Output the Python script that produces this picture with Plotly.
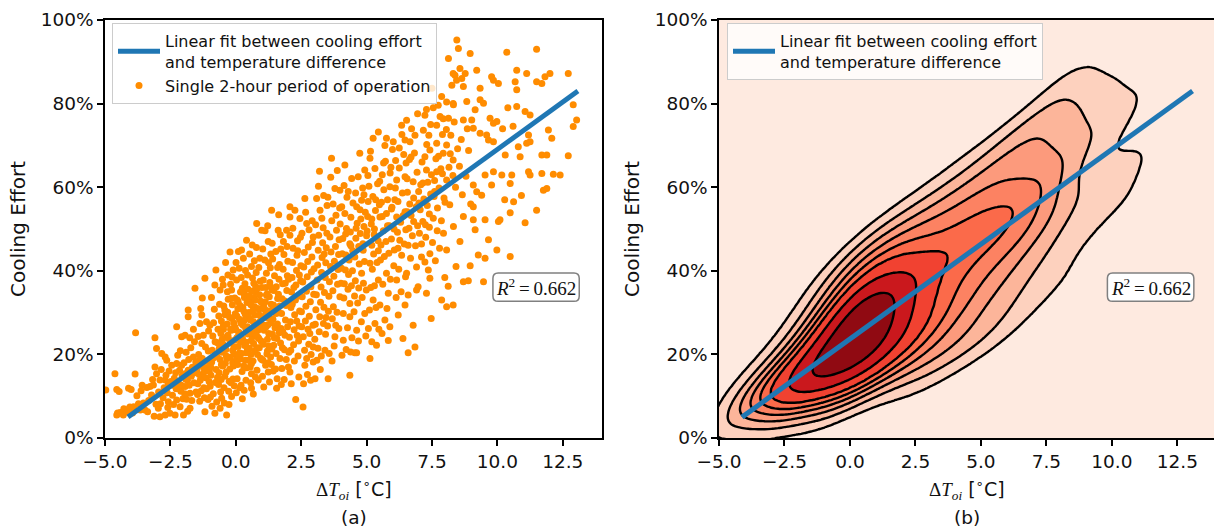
import numpy as np
import plotly.graph_objects as go

# ---------------- data ----------------
# (delta T [degC], cooling effort [%]) for single 2-hour periods
pts_neg = [
    (-4.97,11.5),(-4.62,15.4),(-4.55,11.6),(-4.46,11.1),(-4.55,5.5),(-4.52,6.0),
    (-4.3,5.5),(-4.24,6.8),(-4.0,11.6),(-4.15,6.2),(-4.05,7.4),(-4.42,6.1),(-4.1,11.9),(-4.28,7.0),
    (-3.85,15.3),(-3.83,25.2),(-3.53,8.4),(-3.72,8.2),(-3.65,6.7),(-3.9,7.5),(-3.58,12.6),(-3.78,10.1),(-3.62,11.3),(-3.95,6.0),
    (-3.47,6.7),(-3.37,6.3),(-3.09,24.0),(-3.03,21.4),(-3.09,17.0),(-3.03,15.4),(-3.28,12.3),(-3.15,12.7),(-3.22,10.3),(-3.4,12.1),(-3.12,5.2),(-3.33,9.0),(-3.05,8.1),(-3.18,14.0),
    (-2.96,7.1),(-2.83,20.2),(-2.7,19.4),(-2.64,18.6),(-2.9,13.9),(-2.7,13.9),(-2.58,13.1),(-2.9,5.1),(-2.7,5.5),(-2.52,5.9),(-2.58,8.7),(-2.95,11.0),(-2.78,9.6),(-2.62,10.8),(-2.85,16.4),(-2.55,16.0),(-2.74,12.0),(-2.88,8.2),(-2.6,7.3),(-2.67,15.0),
    (-2.32,5.5),(-2.26,9.1),(-2.13,7.5),(-2.26,26.6),(-2.07,24.2),(-2.45,17.4),(-2.26,17.8),(-2.07,17.4),(-2.0,5.5),(-2.4,12.6),(-2.35,14.3),(-2.18,13.0),(-2.1,11.2),(-2.42,10.2),(-2.3,15.6),(-2.05,14.9),(-2.22,19.8),(-2.12,20.9),(-2.38,8.0),(-2.02,9.4),(-2.48,13.5),(-2.15,16.2),(-2.28,11.8),(-2.08,12.6),
    (-1.94,24.6),(-1.82,30.6),(-1.82,29.0),(-1.94,15.4),(-1.82,16.2),(-1.62,19.4),(-1.94,12.3),(-1.75,10.7),(-1.75,7.1),(-1.56,35.8),(-1.98,18.0),(-1.9,20.5),(-1.85,13.8),(-1.78,12.6),(-1.7,14.8),(-1.66,16.9),(-1.6,13.2),(-1.52,11.0),(-1.88,9.3),(-1.72,21.6),(-1.58,23.0),(-1.95,10.6),(-1.8,18.8),(-1.68,9.0),(-1.55,15.6),(-1.62,26.0),(-1.92,14.1),(-1.76,24.0),(-1.53,18.2),(-1.84,6.4),
    (-1.18,38.2),(-1.3,29.4),(-1.37,27.4),(-1.24,24.6),(-1.3,22.6),(-1.18,6.3),(-1.45,13.0),(-1.4,15.2),(-1.35,17.6),(-1.28,19.0),(-1.22,12.0),(-1.15,14.4),(-1.1,16.8),(-1.05,20.8),(-1.42,20.0),(-1.48,16.4),(-1.32,11.3),(-1.2,9.6),(-1.12,11.8),(-1.02,13.5),(-1.38,8.8),(-1.26,14.9),(-1.08,18.3),(-1.16,21.8),(-1.44,24.3),(-1.34,31.0),(-1.04,25.6),(-1.24,17.0),(-1.46,10.4),(-1.12,27.8),(-1.28,33.5),(-1.06,9.2),(-1.4,18.6),(-1.2,15.9),(-1.01,16.0),(-1.36,13.8),
    (-0.8,5.9),(-0.6,7.1),(-0.6,35.4),(-0.54,9.5),(-0.98,12.4),(-0.95,15.0),(-0.92,18.2),(-0.9,21.0),(-0.88,24.4),(-0.85,27.6),(-0.82,30.8),(-0.78,13.3),(-0.75,16.4),(-0.72,19.6),(-0.7,22.8),(-0.68,26.0),(-0.65,29.2),(-0.62,32.0),(-0.58,11.0),(-0.56,14.0),(-0.55,17.5),(-0.53,20.5),(-0.52,23.6),(-0.51,38.0),(-0.97,9.8),(-0.93,33.6),(-0.86,10.6),(-0.8,36.6),(-0.76,40.2),(-0.73,8.6),(-0.66,12.8),(-0.64,15.6),(-0.6,18.8),(-0.57,25.0),(-0.99,27.0),(-0.91,7.6),(-0.84,19.2),(-0.79,23.0),(-0.7,14.5),(-0.63,21.5),(-0.55,28.0),(-0.96,17.0),
    (-0.35,5.5),(-0.16,9.9),(-0.48,36.6),(-0.1,40.2),(-0.16,35.4),(-0.45,12.0),(-0.42,14.8),(-0.4,17.9),(-0.38,21.2),(-0.36,24.1),(-0.33,27.3),(-0.31,30.1),(-0.29,33.2),(-0.27,11.2),(-0.25,13.6),(-0.23,16.5),(-0.21,19.3),(-0.19,22.7),(-0.17,25.8),(-0.15,28.6),(-0.13,31.9),(-0.11,14.1),(-0.09,17.2),(-0.07,20.1),(-0.05,23.4),(-0.03,26.5),(-0.02,29.7),(-0.44,8.4),(-0.39,42.0),(-0.3,39.0),(-0.22,44.5),(-0.06,12.5),(-0.47,26.0),(-0.41,29.5),(-0.34,19.0),(-0.26,8.0),(-0.2,36.8),(-0.12,21.0),(-0.04,33.5),(-0.49,22.5),(-0.37,15.8),(-0.28,23.8),(-0.18,13.2),(-0.08,27.5),(-0.01,18.4),(-0.46,31.6),(-0.32,35.0),(-0.14,38.5),
]
pts_core = [
    (-0.55,22.4),(-0.48,26.8),(-0.42,30.6),(-0.36,19.6),(-0.3,24.6),(-0.24,28.9),(-0.18,33.4),(-0.12,18.0),(-0.06,21.8),(0.0,25.9),
    (0.04,29.2),(0.09,32.6),(0.14,20.4),(0.18,23.0),(0.22,27.4),(0.27,31.2),(0.31,34.6),(0.36,18.6),(0.4,22.9),(0.45,26.6),
    (0.5,30.0),(0.54,33.2),(0.58,20.0),(0.63,24.2),(0.67,27.8),(0.72,31.4),(0.76,35.0),(0.8,21.6),(0.85,25.8),(0.9,29.4),
    (0.94,32.8),(0.99,18.8),(1.03,22.6),(1.08,27.0),(1.12,30.6),(1.17,34.2),(1.21,20.8),(1.26,25.0),(1.3,28.6),(1.35,32.0),
    (1.4,35.4),(1.45,22.2),(1.5,26.4),(1.55,29.8),(1.6,33.4),(-0.5,17.2),(-0.2,26.0),(0.12,24.8),(0.34,28.2),(0.6,17.8),
    (0.7,33.6),(0.88,23.8),(1.06,31.8),(1.24,18.0),(1.42,30.8),(0.05,19.0),(0.25,35.8),(0.47,21.0),(0.83,27.0),(1.0,36.0),
]
pts_low = [
    (0.1,44.6),(0.22,45.0),(0.41,47.3),(0.29,43.0),(0.03,37.8),(0.22,20.2),(0.48,18.6),(0.02,10.8),(0.05,14.2),(0.07,17.6),(0.09,21.9),(0.12,25.3),(0.14,28.4),(0.16,31.7),(0.18,34.9),(0.2,12.6),(0.24,15.9),(0.26,23.7),(0.28,27.0),(0.31,30.3),(0.33,33.6),(0.35,36.9),(0.37,40.1),(0.39,13.8),(0.42,16.8),(0.44,21.4),(0.46,24.9),(0.49,28.8),(0.04,24.0),(0.08,30.9),(0.13,40.6),(0.17,18.9),(0.21,38.4),(0.25,9.4),(0.3,17.2),(0.34,22.1),(0.38,26.2),(0.43,32.4),(0.47,35.6),(0.06,33.0),(0.11,19.8),(0.15,12.0),(0.19,27.6),(0.27,35.2),(0.32,11.4),(0.36,29.6),(0.4,20.4),(0.45,39.0),(0.01,42.0),(0.23,31.0),
    (0.6,15.4),(0.86,13.9),(0.6,11.9),(0.8,51.3),(0.99,49.7),(0.6,41.0),(0.92,43.0),(0.52,21.5),(0.54,25.0),(0.56,28.2),(0.58,31.9),(0.62,35.1),(0.64,38.3),(0.66,18.4),(0.68,22.6),(0.7,26.1),(0.72,29.4),(0.74,33.0),(0.76,36.2),(0.78,39.6),(0.81,16.2),(0.83,20.0),(0.85,24.1),(0.87,27.5),(0.89,30.8),(0.91,34.3),(0.93,37.5),(0.95,19.1),(0.97,23.2),(0.53,44.0),(0.57,13.2),(0.63,46.2),(0.67,10.5),(0.71,42.4),(0.75,14.6),(0.79,45.6),(0.84,31.0),(0.88,40.8),(0.94,28.0),(0.98,32.5),(0.51,34.0),(0.55,17.0),(0.65,30.5),(0.69,37.0),(0.73,20.8),(0.77,24.8),(0.82,35.8),(0.9,21.6),(0.96,26.4),(0.59,23.3),
    (1.37,54.5),(1.11,42.6),(1.24,47.0),(1.24,15.8),(1.02,14.8),(1.04,18.6),(1.06,22.4),(1.08,25.8),(1.1,29.2),(1.13,32.6),(1.15,36.0),(1.17,39.4),(1.19,20.1),(1.21,23.6),(1.23,27.1),(1.26,30.4),(1.28,33.8),(1.3,37.2),(1.32,40.7),(1.34,44.0),(1.36,17.6),(1.38,21.3),(1.4,24.9),(1.42,28.4),(1.44,31.8),(1.46,35.3),(1.48,38.8),(1.03,45.2),(1.07,12.2),(1.12,49.6),(1.16,26.6),(1.2,34.5),(1.25,41.9),(1.29,13.4),(1.33,19.4),(1.39,46.6),(1.43,16.0),(1.47,24.0),(1.05,37.8),(1.09,31.0),(1.14,17.4),(1.18,28.8),(1.22,50.8),(1.27,22.0),(1.31,36.4),(1.35,27.6),(1.41,42.8),(1.49,30.0),
    (1.62,49.7),(1.94,49.7),(1.82,47.0),(1.56,11.9),(1.52,16.5),(1.54,20.2),(1.57,23.8),(1.59,27.3),(1.61,30.9),(1.63,34.4),(1.65,38.0),(1.67,41.5),(1.69,19.0),(1.71,22.7),(1.73,26.2),(1.75,29.8),(1.77,33.3),(1.79,36.9),(1.81,40.4),(1.84,43.9),(1.86,21.1),(1.88,24.6),(1.9,28.2),(1.92,31.7),(1.95,35.3),(1.97,38.8),(1.99,42.3),(1.53,44.6),(1.58,14.2),(1.64,53.4),(1.68,31.6),(1.72,45.2),(1.76,16.6),(1.8,25.4),(1.85,14.0),(1.89,37.0),(1.93,18.8),(1.98,26.6),(1.55,36.2),(1.6,40.8),(1.66,25.2),(1.7,48.6),(1.74,12.8),(1.78,21.6),(1.87,32.8),(1.96,45.8),
    (2.07,55.3),(2.26,54.5),(2.07,52.9),(2.45,52.5),(2.07,48.5),(2.01,17.0),(2.07,15.8),(2.03,20.5),(2.05,24.1),(2.09,27.8),(2.11,31.2),(2.13,34.9),(2.15,38.4),(2.17,42.0),(2.19,45.4),(2.21,22.3),(2.23,25.9),(2.25,29.5),(2.28,33.0),(2.3,36.6),(2.32,40.1),(2.34,43.7),(2.36,47.2),(2.38,19.6),(2.4,23.2),(2.42,26.8),(2.44,30.4),(2.46,34.0),(2.48,37.6),(2.49,41.2),(2.12,13.0),(2.18,50.2),(2.24,18.4),(2.29,9.2),(2.33,28.0),(2.37,44.8),(2.41,14.6),(2.47,48.0),(2.02,38.0),(2.1,21.0),(2.16,32.0),(2.22,36.0),(2.35,24.5),(2.43,39.0),
    (2.57,7.4),(2.52,26.6),(2.58,24.2),(2.64,57.3),(2.71,51.3),(2.96,48.1),(2.83,25.0),(2.96,21.8),(2.71,19.0),(2.96,18.2),(2.64,17.4),(2.51,30.2),(2.54,33.8),(2.56,37.3),(2.6,40.9),(2.62,44.4),(2.66,28.0),(2.68,31.5),(2.7,35.1),(2.73,38.6),(2.75,42.2),(2.77,45.7),(2.79,22.4),(2.81,29.1),(2.85,32.6),(2.87,36.2),(2.89,39.7),(2.91,43.3),(2.93,46.8),(2.95,27.0),(2.98,34.4),(2.53,49.0),(2.59,13.0),(2.67,54.0),(2.74,15.2),(2.8,49.8),(2.86,13.8),(2.92,52.0),(2.99,40.5),(2.63,21.0),(2.76,26.0),(2.88,20.0),
]
pts_mid = [
    (3.09,57.3),(3.22,54.5),(3.41,21.0),(3.35,27.4),(3.02,23.6),(3.04,27.2),(3.06,30.7),(3.08,34.3),(3.11,37.8),(3.13,41.4),(3.15,44.9),(3.17,48.5),(3.19,25.4),(3.21,29.0),(3.24,32.5),(3.26,36.1),(3.28,39.6),(3.3,43.2),(3.32,46.7),(3.34,50.3),(3.37,31.3),(3.39,34.8),(3.42,38.4),(3.44,41.9),(3.46,45.5),(3.48,49.0),(3.03,14.2),(3.1,18.6),(3.16,60.2),(3.23,16.4),(3.29,52.6),(3.36,58.0),(3.43,24.8),(3.49,55.6),(3.05,51.0),(3.14,21.5),(3.2,63.8),(3.27,19.6),(3.38,44.0),(3.45,28.8),
    (3.53,14.2),(3.66,66.9),(3.98,59.3),(3.79,59.7),(3.6,48.1),(3.85,49.7),(3.79,24.2),(3.73,31.4),(3.98,33.8),(3.51,26.8),(3.54,30.3),(3.56,33.9),(3.58,37.4),(3.62,41.0),(3.64,44.5),(3.67,52.0),(3.69,28.5),(3.71,35.2),(3.75,38.7),(3.77,42.3),(3.81,45.8),(3.83,53.3),(3.87,30.1),(3.89,36.8),(3.91,40.3),(3.93,43.9),(3.95,47.4),(3.97,55.0),(3.52,57.6),(3.57,20.2),(3.63,62.4),(3.68,18.4),(3.72,56.0),(3.76,22.0),(3.82,27.0),(3.88,64.0),(3.94,26.2),(3.99,51.2),
    (4.36,15.0),(4.17,65.3),(4.43,62.1),(4.05,55.3),(4.17,53.7),(4.36,46.5),(4.36,29.0),(4.11,23.4),(4.11,29.8),(4.36,32.2),(4.02,37.0),(4.04,40.6),(4.07,44.1),(4.09,47.7),(4.13,33.5),(4.15,36.9),(4.19,40.2),(4.21,43.8),(4.23,50.1),(4.25,57.6),(4.27,26.4),(4.29,35.6),(4.31,39.1),(4.33,42.6),(4.38,49.3),(4.4,52.8),(4.42,36.4),(4.44,24.0),(4.46,40.0),(4.48,56.2),(4.06,19.8),(4.14,60.4),(4.22,21.2),(4.3,59.0),(4.39,20.6),(4.47,44.8),
    (4.55,20.4),(4.62,20.4),(4.74,68.1),(4.68,62.5),(4.93,64.1),(4.62,55.3),(4.81,56.9),(4.55,43.3),(4.87,44.9),(4.81,39.4),(4.99,35.4),(4.93,29.8),(4.62,25.8),(4.52,30.2),(4.54,34.0),(4.57,37.6),(4.59,47.8),(4.64,51.4),(4.66,32.3),(4.7,35.9),(4.72,41.6),(4.76,48.9),(4.78,52.4),(4.8,27.8),(4.83,33.6),(4.85,59.8),(4.88,37.0),(4.9,50.6),(4.92,42.2),(4.95,54.0),(4.97,24.4),(4.58,58.6),(4.69,23.2),(4.86,46.5),
    (5.13,19.0),(5.2,23.0),(5.38,22.2),(5.13,66.9),(5.25,71.7),(5.45,73.2),(5.32,64.5),(5.2,46.1),(5.13,41.8),(5.45,37.8),(5.25,33.0),(5.32,27.4),(5.02,49.5),(5.04,53.0),(5.06,56.6),(5.09,60.2),(5.11,30.6),(5.16,36.0),(5.18,51.2),(5.22,40.4),(5.24,57.8),(5.27,44.0),(5.29,48.7),(5.34,54.4),(5.36,31.2),(5.4,42.0),(5.42,60.8),(5.44,47.2),(5.47,26.0),(5.49,55.8),(5.07,26.2),(5.3,36.4),
    (5.51,52.9),(5.76,53.7),(5.76,71.7),(5.89,60.1),(5.76,39.4),(5.51,31.8),(5.83,34.6),(5.7,28.2),(5.89,26.6),(5.83,23.3),(5.53,42.6),(5.55,46.2),(5.57,56.4),(5.6,63.0),(5.62,36.8),(5.64,49.6),(5.66,59.4),(5.68,43.4),(5.72,66.2),(5.74,47.0),(5.78,31.0),(5.8,57.0),(5.85,44.2),(5.87,50.8),(5.91,38.0),(5.93,64.8),(5.95,47.6),(5.97,55.2),(5.59,25.0),(5.99,69.0),
    (6.02,70.9),(6.34,74.8),(6.47,71.3),(6.15,52.9),(6.15,61.7),(6.47,62.5),(6.21,29.4),(6.47,31.8),(6.15,37.8),(6.34,43.7),(6.27,47.3),(6.47,54.1),(6.04,41.2),(6.06,45.0),(6.08,57.0),(6.11,66.4),(6.13,33.6),(6.18,49.2),(6.2,56.6),(6.23,40.4),(6.25,64.6),(6.3,51.6),(6.32,35.0),(6.37,58.6),(6.39,23.8),(6.42,67.8),(6.44,46.4),(6.49,38.6),
    (6.53,76.0),(6.66,70.9),(6.59,20.4),(6.85,21.8),(6.78,27.0),(6.59,34.2),(6.91,35.4),(6.53,39.4),(6.91,40.9),(6.97,36.2),(6.59,46.1),(6.55,54.1),(6.9,55.3),(6.78,61.3),(6.51,65.8),(6.56,58.8),(6.62,50.2),(6.64,66.6),(6.68,43.0),(6.7,53.2),(6.72,74.0),(6.75,48.4),(6.8,57.4),(6.83,68.2),(6.87,46.0),(6.93,63.6),(6.95,50.8),(6.99,59.0),
]
pts_plateau = [
    (4.6,50.2),(4.75,54.6),(4.9,58.2),(5.05,62.8),(5.2,52.4),(5.35,57.0),(5.5,61.4),(5.65,65.8),(5.8,50.8),(5.95,54.8),
    (6.1,59.8),(6.25,69.4),(6.4,53.2),(6.55,62.0),(6.7,67.2),(6.85,72.4),(7.0,56.2),(7.15,61.0),(7.3,70.2),(7.45,75.0),
    (7.6,59.0),(7.75,67.4),(7.9,63.2),(8.05,73.8),(8.2,68.0),(8.35,75.6),(4.7,45.8),(5.0,48.4),(5.3,50.0),(5.6,53.0),
    (5.9,63.4),(6.2,45.4),(6.5,49.8),(6.8,51.8),(7.1,46.4),(7.4,53.6),(7.7,49.6),(8.0,56.4),(8.3,62.8),(5.15,68.6),
    (5.7,70.0),(6.35,72.6),(6.95,77.6),(7.55,79.0),(4.4,46.0),(4.2,48.8),(5.45,44.8),(6.05,50.0),(6.65,56.0),(7.25,51.0),
]
pts_high = [
    (7.17,73.6),(7.23,77.2),(7.29,78.6),(7.29,34.6),(7.42,38.2),(7.36,40.2),(7.23,42.1),(7.42,44.1),(7.1,43.3),(7.29,64.1),(7.23,67.3),(7.42,68.9),(7.02,49.0),(7.05,54.6),(7.07,60.6),(7.12,66.0),(7.15,51.8),(7.19,57.2),(7.26,48.0),(7.32,55.6),(7.34,61.2),(7.38,72.4),(7.4,50.4),(7.45,58.4),(7.47,28.6),(7.48,63.0),(7.5,83.7),
    (7.68,74.8),(7.93,76.4),(7.74,79.6),(7.68,63.7),(7.93,68.1),(7.68,70.5),(7.87,33.0),(7.87,81.7),(7.81,76.9),(7.94,49.0),(7.52,46.8),(7.55,52.6),(7.58,57.8),(7.6,61.6),(7.63,42.4),(7.65,66.8),(7.71,55.0),(7.77,59.8),(7.79,45.4),(7.84,64.4),(7.86,52.0),(7.9,72.6),(7.96,57.4),(7.99,38.4),
    (8.06,80.4),(8.31,80.0),(8.31,87.2),(8.44,85.6),(8.45,95.2),(8.13,90.8),(8.38,86.8),(8.26,84.4),(8.32,79.7),(8.13,76.5),(8.06,45.0),(8.12,36.3),(8.06,31.4),(8.31,31.8),(8.06,61.7),(8.31,66.5),(8.06,70.1),(8.32,50.6),(8.18,55.8),(8.22,72.4),(8.4,60.0),(8.48,69.2),(8.15,64.8),(8.42,41.0),
    (8.51,93.2),(8.96,92.0),(8.57,88.4),(8.64,86.0),(8.77,87.2),(8.7,84.1),(8.83,80.5),(8.7,76.1),(8.96,41.2),(8.89,37.6),(8.7,37.4),(8.57,47.0),(8.7,53.0),(8.55,65.0),(8.62,71.4),(8.8,62.6),(8.9,68.8),(8.66,58.2),(8.85,74.0),(8.98,56.0),
    (9.21,88.0),(9.34,83.7),(9.34,80.9),(9.47,80.1),(9.15,78.5),(9.02,76.1),(9.08,74.1),(9.34,72.9),(9.08,60.5),(9.21,58.9),(9.4,58.1),(9.08,52.2),(9.15,49.8),(9.27,43.8),(9.08,55.3),(9.47,37.4),
    (9.78,86.4),(9.85,85.6),(9.72,76.5),(9.85,75.3),(9.98,75.7),(9.59,72.5),(9.66,71.3),(9.85,70.9),(9.85,63.7),(9.53,62.9),(9.78,60.5),(9.53,52.2),(9.66,47.4),(9.98,45.0),(9.53,43.0),
    (10.04,84.8),(10.36,92.3),(10.3,67.7),(10.17,62.9),(10.49,60.9),(10.49,53.9),(10.1,52.2),(10.04,51.8),(10.49,43.4),(10.2,74.0),(10.4,79.0),(10.28,57.0),
    (10.74,88.0),(10.68,85.2),(10.74,83.3),(10.74,79.3),(10.8,69.7),(10.87,67.3),(10.55,62.9),(10.6,74.6),(10.92,58.0),(10.62,56.5),
    (11.12,87.2),(11.06,78.1),(11.25,77.3),(11.19,72.5),(11.25,70.9),(11.12,70.5),(11.19,63.7),(11.25,62.9),(11.06,51.5),
    (11.5,93.0),(11.5,85.2),(11.7,84.8),(11.82,86.4),(11.95,73.7),(11.7,67.7),(11.89,67.7),(11.7,63.3),(11.76,59.3),(11.89,59.7),(11.5,54.5),
    (12.01,87.2),(12.08,71.7),(12.14,63.1),(12.4,62.9),
    (12.71,87.2),(12.9,79.7),(13.03,76.1),(12.9,74.5),(12.71,67.5),
]
points = pts_neg + pts_core + pts_low + pts_mid + pts_plateau + pts_high
delta_t = [p[0] for p in points]
cooling_effort = [p[1] for p in points]

# linear fit line (end points)
fit_x = [-4.12, 13.08]
fit_y = [5.0, 83.0]
r2_value = "0.662"
r2_pos = (11.48, 36.1)

x_ticks = [-5.0, -2.5, 0.0, 2.5, 5.0, 7.5, 10.0, 12.5]
y_ticks = [0, 20, 40, 60, 80, 100]
x_ticktext = [("\u2212%.1f" % -v) if v < 0 else "%.1f" % v for v in x_ticks]
y_ticktext = ["%d%%" % v for v in y_ticks]

# ---------------- Gaussian KDE (Scott bandwidth, like seaborn) ----------------
X = np.array([delta_t, cooling_effort], dtype=float)
n = X.shape[1]
factor = n ** (-1.0 / 6.0)
cov = np.cov(X) * factor ** 2
inv = np.linalg.inv(cov)
bw = np.sqrt(np.diag(cov))
gx = np.linspace(X[0].min() - 3 * bw[0], X[0].max() + 3 * bw[0], 200)
gy = np.linspace(X[1].min() - 3 * bw[1], X[1].max() + 3 * bw[1], 200)
GX, GY = np.meshgrid(gx, gy)
px_, py_ = GX.ravel(), GY.ravel()
dens = np.zeros(px_.size)
for i in range(n):
    dx = px_ - X[0, i]
    dy = py_ - X[1, i]
    m = inv[0, 0] * dx * dx + 2 * inv[0, 1] * dx * dy + inv[1, 1] * dy * dy
    dens += np.exp(-0.5 * m)
dens = dens.reshape(GX.shape)

props = np.linspace(0, 1, 10)
vals = dens.ravel()
sv = np.sort(vals)[::-1]
cum = np.cumsum(sv) / vals.sum()
idx = np.searchsorted(cum, 1 - props)
levels = np.take(sv, idx, mode="clip")
levels = np.maximum.accumulate(levels)
zq = np.interp(dens, levels, props)

reds = ["#fff5f0", "#fee0d2", "#fcbba1", "#fc9272", "#fb6a4a",
        "#ef3b2c", "#cb181d", "#a50f15", "#67000d"]


def hex2rgb(h):
    return [int(h[i:i + 2], 16) for i in (1, 3, 5)]


def reds_at(t):
    t = min(max(t, 0.0), 1.0) * 8
    k = min(int(t), 7)
    f = t - k
    a, b = hex2rgb(reds[k]), hex2rgb(reds[k + 1])
    c = [round(a[j] + (b[j] - a[j]) * f) for j in range(3)]
    return "rgb(%d,%d,%d)" % tuple(c)


mids = (levels[:-1] + levels[1:]) / 2
tn = (mids - levels[0]) / (levels[-1] - levels[0])
band_colors = [reds_at(t) for t in tn]
colorscale = [[k / 8, band_colors[k]] for k in range(9)]

# ---------------- figure ----------------
W, H = 1214, 527
FONT = "DejaVu Sans"
SERIF = "Liberation Serif"
ORANGE = "#ff8c00"
BLUE = "#1f77b4"

fig = go.Figure()

fig.add_trace(go.Scatter(
    x=delta_t, y=cooling_effort, mode="markers", xaxis="x", yaxis="y",
    marker=dict(color=ORANGE, size=7, line=dict(width=0)),
    name="Single 2-hour period of operation", legend="legend", legendrank=2,
    hoverinfo="skip"))
fig.add_trace(go.Scatter(
    x=fit_x, y=fit_y, mode="lines", xaxis="x", yaxis="y",
    line=dict(color=BLUE, width=5),
    name="Linear fit between cooling effort<br>and temperature difference",
    legend="legend", legendrank=1, hoverinfo="skip"))

fig.add_trace(go.Contour(
    x=gx, y=gy, z=zq, xaxis="x2", yaxis="y2", autocontour=False,
    contours=dict(start=1 / 9, end=8 / 9, size=1 / 9, coloring="fill", showlines=True),
    line=dict(color="black", width=2.4, smoothing=1),
    colorscale=colorscale, showscale=False, showlegend=False, hoverinfo="skip"))
fig.add_trace(go.Scatter(
    x=fit_x, y=fit_y, mode="lines", xaxis="x2", yaxis="y2",
    line=dict(color=BLUE, width=5),
    name="Linear fit between cooling effort<br>and temperature difference",
    legend="legend2", hoverinfo="skip"))

axis_common = dict(
    showline=True, linecolor="black", linewidth=1.5, ticks="outside",
    ticklen=6, tickwidth=1.5, tickcolor="black", showgrid=False, zeroline=False,
    automargin=False, tickfont=dict(family=FONT, size=18.5, color="#111111"))

legend_common = dict(
    xanchor="left", yanchor="top", bgcolor="rgba(255,255,255,0.8)",
    bordercolor="#cccccc", borderwidth=1, itemwidth=42,
    font=dict(family=FONT, size=16, color="#111111"))

fig.update_layout(
    width=W, height=H, autosize=False,
    margin=dict(l=0, r=0, t=0, b=0, pad=0, autoexpand=False),
    paper_bgcolor="white", plot_bgcolor="white",
    font=dict(family=FONT, size=16, color="#111111"),
    xaxis=dict(domain=[105 / W, 602 / W], range=[-5, 14], anchor="y",
               tickvals=x_ticks, ticktext=x_ticktext, mirror=True, **axis_common),
    yaxis=dict(domain=[1 - 438 / H, 1 - 20 / H], range=[0, 100], anchor="x",
               tickvals=y_ticks, ticktext=y_ticktext, mirror=True, **axis_common),
    xaxis2=dict(domain=[719 / W, 1.0], range=[-5, 13.9], anchor="y2",
                tickvals=x_ticks, ticktext=x_ticktext, mirror=True, **axis_common),
    yaxis2=dict(domain=[1 - 438 / H, 1 - 20 / H], range=[0, 100], anchor="x2",
                tickvals=y_ticks, ticktext=y_ticktext, mirror=False, **axis_common),
    legend=dict(x=112 / W, y=1 - 23 / H, tracegroupgap=2, **legend_common),
    legend2=dict(x=727 / W, y=1 - 23 / H, **legend_common),
)

xlabel = ('<span style="font-family:%s">\u0394<i>T</i><sub><i>oi</i></sub></span>'
          ' [<sup>\u2218</sup>C]') % SERIF
annots = []
for cx, letter, ylab_x in [((105 + 602) / 2, "(a)", 18), ((719 + 1214) / 2, "(b)", 632)]:
    annots.append(dict(x=cx / W, y=1 - 489 / H, xref="paper", yref="paper", text=xlabel,
                       showarrow=False, xanchor="center", yanchor="middle",
                       font=dict(family=FONT, size=19, color="#111111")))
    annots.append(dict(x=cx / W, y=1 - 517 / H, xref="paper", yref="paper", text=letter,
                       showarrow=False, xanchor="center", yanchor="middle",
                       font=dict(family=FONT, size=18.5, color="#111111")))
    annots.append(dict(x=ylab_x / W, y=1 - 229 / H, xref="paper", yref="paper",
                       text="Cooling Effort", textangle=-90, showarrow=False,
                       xanchor="center", yanchor="middle",
                       font=dict(family=FONT, size=20, color="#111111")))

shapes = []
bx_w, bx_h, rx, ry = 3.3, 6.8, 0.2, 1.3
for xr, yr in [("x", "y"), ("x2", "y2")]:
    cx, cy = r2_pos
    x0, x1 = cx - bx_w / 2, cx + bx_w / 2
    y0, y1 = cy - bx_h / 2, cy + bx_h / 2
    path = ("M %f,%f L %f,%f Q %f,%f %f,%f L %f,%f Q %f,%f %f,%f L %f,%f Q %f,%f %f,%f "
            "L %f,%f Q %f,%f %f,%f Z") % (
        x0 + rx, y0, x1 - rx, y0, x1, y0, x1, y0 + ry, x1, y1 - ry, x1, y1, x1 - rx, y1,
        x0 + rx, y1, x0, y1, x0, y1 - ry, x0, y0 + ry, x0, y0, x0 + rx, y0)
    shapes.append(dict(type="path", path=path, xref=xr, yref=yr, layer="above",
                       fillcolor="white", line=dict(color="#808080", width=1.5)))
    annots.append(dict(x=cx, y=cy, xref=xr, yref=yr,
                       text="<i>R</i><sup>2</sup>\u2009=\u2009" + r2_value, showarrow=False,
                       xanchor="center", yanchor="middle",
                       font=dict(family=SERIF, size=19, color="#111111")))
fig.update_layout(annotations=annots, shapes=shapes)

fig.write_html("out.html")
